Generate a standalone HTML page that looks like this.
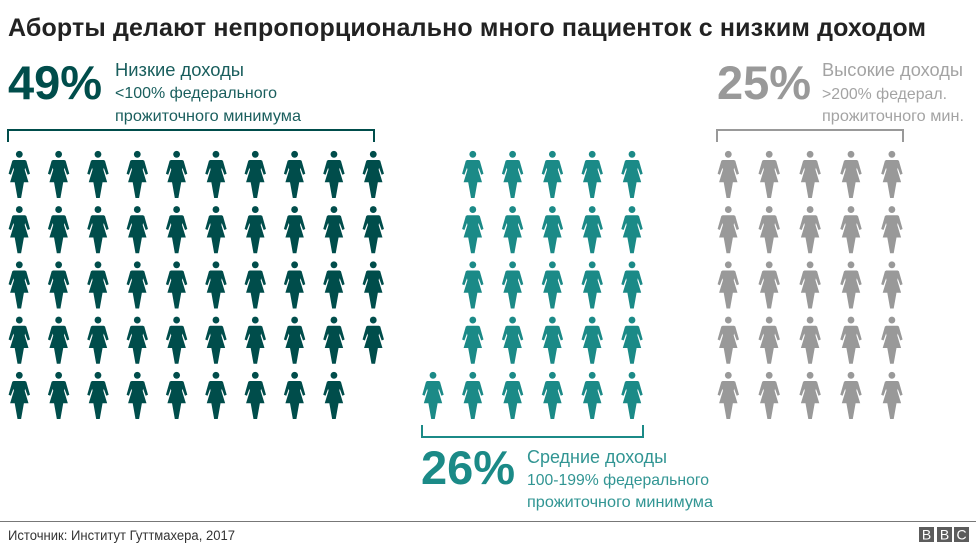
<!DOCTYPE html>
<html lang="ru">
<head>
<meta charset="utf-8">
<title>Аборты и доход пациенток</title>
<style>
html,body{margin:0;padding:0;background:#fff;}
svg{display:block;font-family:"Liberation Sans","Noto Sans CJK SC",sans-serif;}
</style>
</head>
<body>
<svg id="chart" width="976" height="549" viewBox="0 0 976 549" xmlns="http://www.w3.org/2000/svg">
  <rect x="0" y="0" width="976" height="549" fill="#ffffff"/>
  <text x="8" y="36" font-size="25" font-weight="700" fill="#222222" textLength="918" lengthAdjust="spacing">Аборты делают непропорционально много пациенток с низким доходом</text>

  <g fill="#004d4b">
    <text x="8" y="99" font-size="47" font-weight="700">49%</text>
    <text x="115" y="76" font-size="18" fill-opacity="0.9" textLength="129" lengthAdjust="spacingAndGlyphs">Низкие доходы</text>
    <text x="115" y="98" font-size="16" fill-opacity="0.9" textLength="162" lengthAdjust="spacingAndGlyphs">&lt;100% федерального</text>
    <text x="115" y="121" font-size="16" fill-opacity="0.9" textLength="186" lengthAdjust="spacingAndGlyphs">прожиточного минимума</text>
    <path d="M8 142V130H374V142" fill="none" stroke="#004d4b" stroke-width="2"/>
  </g>

  <g fill="#1b8a87">
    <text x="421" y="484" font-size="47" font-weight="700">26%</text>
    <text x="527" y="463" font-size="18" fill-opacity="0.9" textLength="140" lengthAdjust="spacingAndGlyphs">Средние доходы</text>
    <text x="527" y="485" font-size="16" fill-opacity="0.9" textLength="182" lengthAdjust="spacingAndGlyphs">100-199% федерального</text>
    <text x="527" y="507" font-size="16" fill-opacity="0.9" textLength="186" lengthAdjust="spacingAndGlyphs">прожиточного минимума</text>
    <path d="M422 425V437H643V425" fill="none" stroke="#1b8a87" stroke-width="2"/>
  </g>

  <g fill="#999999">
    <text x="717" y="99" font-size="47" font-weight="700">25%</text>
    <text x="822" y="76" font-size="18" fill-opacity="0.9" textLength="141" lengthAdjust="spacingAndGlyphs">Высокие доходы</text>
    <text x="822" y="99" font-size="16" fill-opacity="0.9" textLength="125" lengthAdjust="spacingAndGlyphs">&gt;200% федерал.</text>
    <text x="822" y="121" font-size="16" fill-opacity="0.9" textLength="142" lengthAdjust="spacingAndGlyphs">прожиточного мин.</text>
    <path d="M717 142V130H903V142" fill="none" stroke="#999999" stroke-width="2"/>
  </g>

  <g id="figures"></g>

  <line x1="0" y1="521.5" x2="976" y2="521.5" stroke="#777777" stroke-width="1"/>
  <text x="8" y="540" font-size="13.5" fill="#333333" textLength="227" lengthAdjust="spacingAndGlyphs">Источник: Институт Гуттмахера, 2017</text>

  <g font-size="14" fill="#ffffff" text-anchor="middle">
    <rect x="919" y="527" width="15" height="15" fill="#5c5c5c"/>
    <text x="926.5" y="539.5">B</text>
    <rect x="937" y="527" width="15" height="15" fill="#5c5c5c"/>
    <text x="944.5" y="539.5">B</text>
    <rect x="954" y="527" width="15" height="15" fill="#5c5c5c"/>
    <text x="961.5" y="539.5">C</text>
  </g>
</svg>
<script>
var groupNames = ['low-income', 'middle-income', 'high-income'];
var patientCounts = [49, 26, 25];

var NS = 'http://www.w3.org/2000/svg';
var BODY = 'M-5.7 5.7L5.7 5.7L7 6.5L10.7 19.5L8.4 20.5L5.8 13.5L5.4 15.5L9.2 28L4.6 28L1.8 43.7L-1.8 43.7L-4.6 28L-9.2 28L-5.4 15.5L-5.8 13.5L-8.4 20.5L-10.7 19.5L-7 6.5Z';
var layouts = [
  {x0: 19.3, step: 39.33, cols: 10, color: '#004d4b', byRow: true},
  {x0: 433, step: 39.8, cols: 6, color: '#1b8a87', byRow: false},
  {x0: 728.3, step: 40.9, cols: 5, color: '#999999', byRow: false}
];
var ROWS = 5;

function xScale(layout, col) { return layout.x0 + col * layout.step; }
function yScale(row) { return 154.3 + row * 55.25; }

function cellFor(layout, i) {
  if (layout.byRow) {
    return {col: i % layout.cols, row: Math.floor(i / layout.cols)};
  }
  // Columns fill from the right, each one from the bottom up.
  return {col: layout.cols - 1 - Math.floor(i / ROWS), row: ROWS - 1 - (i % ROWS)};
}

var root = document.getElementById('figures');
patientCounts.forEach(function (count, g) {
  var layout = layouts[g];
  for (var i = 0; i < count; i++) {
    var cell = cellFor(layout, i);
    var fig = document.createElementNS(NS, 'g');
    
    
    fig.setAttribute('fill', layout.color);
    fig.setAttribute('transform', 'translate(' + xScale(layout, cell.col) + ' ' + yScale(cell.row) + ')');
    var head = document.createElementNS(NS, 'circle');
    head.setAttribute('r', '3.4');
    var body = document.createElementNS(NS, 'path');
    body.setAttribute('d', BODY);
    fig.appendChild(head);
    fig.appendChild(body);
    root.appendChild(fig);
  }
});
</script>
</body>
</html>
